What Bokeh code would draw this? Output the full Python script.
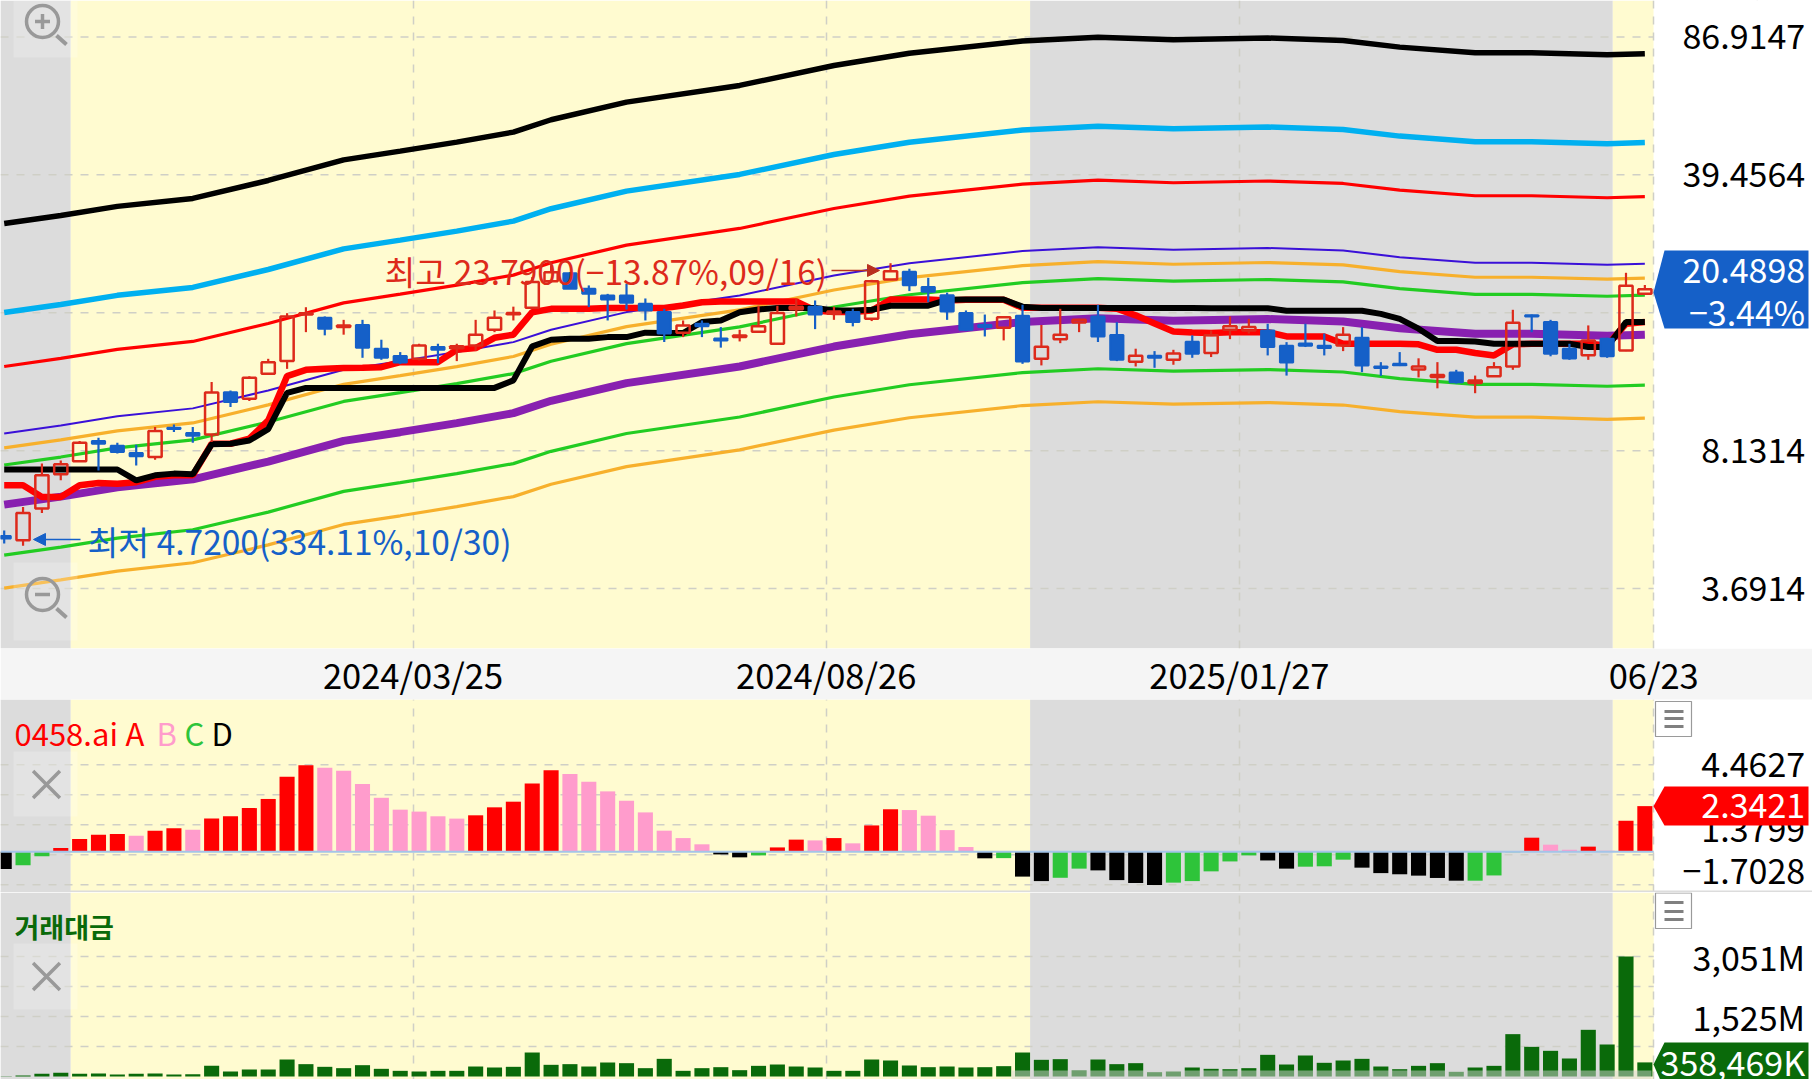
from bokeh.plotting import figure
from bokeh.layouts import column
from bokeh.embed import file_html
from bokeh.resources import INLINE
from bokeh.models import Range1d, FixedTicker, PolyAnnotation, Arrow, NormalHead
from bokeh.core.properties import value
from math import exp

# ---------- price candles (weekly) ----------
high = [5.15,5.89,7.55,7.69,8.59,8.76,8.51,8.41,9.31,9.44,9.31,12.05,11.48,12.46,13.76,17.87,18.49,17.54,17.20,17.20,
        15.35,14.30,15.00,15.00,15.00,17.20,18.15,18.55,21.97,23.50,22.60,20.95,19.96,21.15,19.44,18.33,17.14,17.14,16.50,16.25,
        18.65,18.65,19.40,19.22,18.55,18.32,21.63,23.79,23.05,21.88,20.10,18.15,17.73,17.54,18.75,16.70,18.32,17.30,18.75,16.98,
        14.58,14.38,14.49,15.74,16.19,17.54,17.30,16.82,15.14,16.82,15.90,16.50,16.50,13.50,14.30,13.80,13.50,12.92,12.50,13.50,
        18.22,17.73,17.20,15.00,16.66,15.52,22.52,21.00]
low = [4.78,4.72,5.69,6.86,7.62,7.26,8.00,7.47,7.72,9.05,8.51,8.54,10.44,10.80,12.58,12.99,16.03,15.74,15.80,13.84,
       13.68,13.35,13.63,13.42,13.58,14.38,16.03,17.14,18.36,21.30,20.55,18.50,17.14,18.25,17.14,15.15,15.58,15.58,14.67,15.20,
       16.03,14.95,17.54,16.31,17.20,16.57,17.08,21.63,20.28,19.03,17.20,16.13,15.64,15.29,13.37,13.25,15.05,16.03,15.15,13.58,
       13.17,13.07,13.30,13.84,13.90,15.40,15.90,14.03,12.50,14.72,14.03,14.38,12.75,12.48,13.20,12.37,11.62,11.94,11.30,12.41,
       12.92,16.03,13.96,13.68,13.68,13.84,14.38,19.85]
open_ = [4.99,4.87,5.84,7.10,7.65,8.59,8.36,8.02,7.84,9.27,9.00,8.92,11.37,10.95,12.63,13.58,17.73,17.40,16.50,16.70,
         14.58,13.98,13.76,14.72,14.61,14.86,16.25,17.76,18.43,21.46,22.45,20.55,19.78,19.78,18.87,17.98,15.98,16.82,15.46,15.58,
         16.07,15.00,18.28,18.55,17.80,18.00,17.30,21.67,22.65,20.75,19.80,17.90,16.70,16.44,17.60,13.76,15.40,16.94,17.54,15.77,
         13.53,14.00,13.68,15.17,14.22,16.25,16.19,16.19,14.83,15.03,14.83,14.86,15.52,13.17,13.37,12.95,12.40,12.73,11.98,12.46,
         13.17,17.66,16.98,14.58,14.05,15.43,14.44,19.98]
close = [4.92,5.69,7.06,7.52,8.51,8.46,8.07,7.87,9.10,9.20,8.86,11.35,10.74,12.35,13.50,17.54,17.87,16.35,16.66,14.67,
         13.84,13.47,14.86,14.49,14.78,15.79,17.40,17.90,21.35,22.60,20.55,19.96,19.33,18.97,18.15,15.90,16.66,16.57,15.29,15.72,
         16.57,17.90,18.55,17.73,18.05,16.98,21.47,22.73,20.98,20.20,18.05,16.25,16.50,17.47,13.55,14.74,15.80,17.20,15.64,13.68,
         14.00,13.84,14.18,14.16,15.74,16.57,16.50,14.72,13.48,14.83,14.64,15.80,13.25,13.05,13.27,13.17,12.55,12.03,12.16,13.12,
         16.92,17.54,14.16,13.79,15.29,13.96,20.90,20.49]

# ---------- thick step lines ----------
thick_red = [6.67,6.67,6.24,6.24,6.67,6.76,6.73,6.79,7.00,7.06,7.06,8.46,8.46,8.71,9.67,12.46,12.92,12.99,13.05,13.07,
             13.12,13.50,13.50,13.50,14.49,14.63,15.52,15.80,17.97,18.32,18.33,18.33,18.40,18.40,18.40,18.40,18.67,19.03,19.11,19.11,
             19.11,19.11,19.11,18.15,17.98,17.98,18.15,19.33,19.33,19.33,19.22,19.30,19.30,19.30,18.43,18.43,18.43,18.43,18.43,18.33,
             17.65,16.84,16.09,16.00,15.95,16.03,16.03,16.03,15.64,15.64,15.64,15.00,15.00,15.00,15.00,14.95,14.49,14.49,14.22,14.03,
             14.95,15.00,15.00,15.00,15.00,14.86,16.82,16.98]
thick_black = [7.30,7.30,7.30,7.30,7.30,7.30,7.30,6.86,7.06,7.13,7.10,8.43,8.46,8.62,9.20,11.32,11.65,11.65,11.65,11.65,
               11.65,11.65,11.65,11.65,11.65,11.65,11.65,12.16,14.78,15.35,15.43,15.43,15.58,15.58,15.98,15.95,15.95,16.98,17.14,17.97,
               18.25,18.42,18.42,18.42,18.15,18.15,18.22,18.65,18.65,18.65,19.29,19.33,19.33,19.33,18.55,18.42,18.42,18.42,18.42,18.42,
               18.42,18.42,18.42,18.42,18.39,18.39,18.39,18.39,18.12,18.12,18.12,18.12,18.12,17.80,17.30,16.35,15.24,15.24,15.20,15.00,
               15.00,15.00,15.00,15.00,14.72,14.72,16.98,16.98]

# ---------- envelope lines, read at these bars ----------
band_bars = [0,3,6,10,14,18,21,24,27,29,33,39,44,48,54,58,62,67,71,74,78,81,85,87]
band_black = [29.87,31.27,32.94,34.48,38.21,43.0,45.2,47.6,50.4,54.1,59.85,65.85,73.8,79.2,84.9,86.8,85.55,86.4,85.2,82.0,79.4,79.4,78.5,79.0]
band_cyan = [17.94,18.78,19.79,20.71,22.95,25.83,27.15,28.59,30.28,32.5,35.95,39.56,44.33,47.58,51.0,52.14,51.39,51.9,51.18,49.26,47.7,47.7,47.15,47.46]
band_red = [13.17,13.79,14.52,15.2,16.85,18.96,19.93,20.99,22.22,23.85,26.39,29.03,32.54,34.92,37.43,38.27,37.72,38.09,37.56,36.15,35.01,35.01,34.61,34.83]
band_violet = [8.97,9.39,9.9,10.36,11.48,12.92,13.58,14.3,15.14,16.25,17.98,19.78,22.17,23.79,25.5,26.07,25.7,25.95,25.59,24.63,23.85,23.85,23.58,23.73]
band_orange = [8.26,8.65,9.11,9.53,10.57,11.89,12.5,13.16,13.94,14.96,16.55,18.21,20.41,21.9,23.47,24.0,23.65,23.89,23.56,22.67,21.95,21.95,21.71,21.84]
band_green = [7.49,7.84,8.26,8.65,9.58,10.78,11.34,11.94,12.64,13.57,15.01,16.52,18.51,19.86,21.29,21.77,21.46,21.67,21.37,20.57,19.91,19.91,19.69,19.81]
band_purple = [5.97,6.25,6.59,6.90,7.64,8.6,9.04,9.52,10.08,10.82,11.97,13.17,14.76,15.84,16.98,17.36,17.11,17.28,17.04,16.4,15.88,15.88,15.7,15.8]
band_green2 = [4.47,4.68,4.93,5.17,5.72,6.44,6.77,7.13,7.55,8.1,8.97,9.86,11.06,11.86,12.72,13.0,12.82,12.94,12.76,12.28,11.89,11.89,11.76,11.83]
band_orange2 = [3.70,3.88,4.08,4.28,4.74,5.33,5.6,5.9,6.25,6.71,7.42,8.17,9.15,9.82,10.53,10.76,10.61,10.71,10.56,10.17,9.85,9.85,9.73,9.8]

# ---------- oscillator ----------
osc = [-.89,-.70,-.24,.19,.65,.87,.91,.82,1.08,1.20,1.13,1.71,1.82,2.24,2.71,3.85,4.44,4.32,4.16,3.48,
       2.77,2.16,2.06,1.82,1.70,1.87,2.28,2.57,3.51,4.18,3.99,3.60,3.10,2.62,2.02,1.08,.70,.38,-.14,-.29,
       -.19,.22,.62,.58,.70,.43,1.35,2.18,2.14,1.85,1.11,.24,-.34,-.33,-1.28,-1.51,-1.34,-.87,-.96,-1.46,
       -1.61,-1.71,-1.59,-1.51,-1.01,-.50,-.19,-.45,-.87,-.77,-.75,-.41,-.82,-1.10,-1.16,-1.23,-1.35,-1.49,-1.49,-1.22,
       -.03,.72,.36,.10,.26,.05,1.59,2.3421]
osc_state = list("DCCAAAABAABAAAAAABBBBBBBBAAAAABBBBBBBBDDCAABABAABBBBDCDDCCDDDDCCCCCDDCCCDDDDDDCCCABBABAA")
osc_colors = {"A": "#ff0000", "B": "#ff9ccc", "C": "#2ec43a", "D": "#000000"}

# ---------- traded value, millions ----------
volume = [8,25,68,93,68,76,51,68,76,51,59,271,127,178,178,432,314,246,212,288,
          195,144,127,144,144,254,229,246,610,297,314,254,356,339,212,449,144,212,237,161,
          271,305,254,229,144,144,432,407,280,237,254,229,237,263,610,424,441,153,432,314,
          339,110,127,229,195,186,212,551,305,534,348,407,449,254,186,271,339,119,229,271,
          1077,754,653,458,1187,814,3051,358.469]

# ---------- axes ----------
date_ticks = [21.68, 43.59, 65.5, 87.47]
date_labels = ["2024/03/25", "2024/08/26", "2025/01/27", "06/23"]
price_grid = [86.9147, 39.4564, 17.912, 8.1314, 3.6914]
price_ticks = [86.9147, 39.4564, 8.1314, 3.6914]
price_labels = ["86.9147", "39.4564", "8.1314", "3.6914"]
osc_grid = [4.4627, 2.9213, 1.3799, -0.1615, -1.7028]
osc_label_pos = [4.4627, 1.14, -1.0]
osc_labels = ["4.4627", "1.3799", "\u22121.7028"]
vol_grid = [3051, 2288, 1525, 763]
vol_ticks = [3051, 1525]
vol_labels = ["3,051M", "1,525M"]
gray_spans = [(-0.2, 3.53), (54.4, 85.3)]
cream_spans = [(3.53, 54.4), (85.3, 87.47)]

FONT = value("Noto Sans CJK KR")
BLUE = "#1560c8"
RED = "#dd2a1b"
CREAM = "#fffbd0"
GRAY = "#dcdcdc"
GRID = "#cfcfc6"
XMIN, XMAX = -0.1962, 95.89
XEND = 87.47
LBLX = 95.5
SIZE = "34px"
NOTE = "33.5px"

def X(px):
    return XMIN + px * (XMAX - XMIN) / 1812.0
def PY(py):
    return 17.912 * exp((312.3 - py) * 0.005727)
def OY(py):
    return (852.2 - py) / 19.46
def VY(py):
    return (1077 - py) * 25.43

n = len(close)
idx = list(range(n))

def make_fig(height, y_range, **kw):
    p = figure(width=1812, height=height, x_range=Range1d(XMIN, XMAX), y_range=y_range,
               output_backend="svg", toolbar_location=None, min_border=0, **kw)
    p.outline_line_color = None
    p.background_fill_color = "#ffffff"
    p.border_fill_color = "#ffffff"
    p.ygrid.visible = False
    p.xgrid.ticker = FixedTicker(ticks=date_ticks)
    p.xgrid.grid_line_color = GRID
    p.xgrid.grid_line_dash = "8 8"
    p.xgrid.grid_line_width = 1.5
    p.xgrid.level = "underlay"
    return p

def bands(p, bottom, top):
    for a, b in gray_spans:
        p.quad(left=a, right=b, bottom=bottom, top=top, fill_color=GRAY, line_color=None, level="image")
    for a, b in cream_spans:
        p.quad(left=a, right=b, bottom=bottom, top=top, fill_color=CREAM, line_color=None, level="image")

def hgrid(p, vals):
    p.segment(x0=[XMIN] * len(vals), x1=[XEND] * len(vals), y0=vals, y1=vals,
              line_color=GRID, line_width=1.5, line_dash="8 8", level="underlay")

def ticklabels(p, ys, labels, size=SIZE, color="#000000"):
    p.text(x=[LBLX] * len(ys), y=ys, text=labels, text_font=FONT, text_font_size=size,
           text_color=color, text_align="right", text_baseline="middle")

def tag(p, yfn, y_top, y_tip, y_bot, color):
    xs = [X(1653), X(1664), X(1808), X(1808), X(1664)]
    ys = [yfn(y_tip), yfn(y_top), yfn(y_top), yfn(y_bot), yfn(y_bot)]
    p.patch(x=xs, y=ys, fill_color=color, line_color=None)

def rbox(p, yfn, px0, px1, py0, py1):
    p.quad(left=X(px0), right=X(px1), top=yfn(py0), bottom=yfn(py1),
           fill_color="#ffffff", fill_alpha=0.22, line_color=None)

def menu(p, yfn, py0, py1, lines):
    p.quad(left=X(1655), right=X(1691), top=yfn(py0), bottom=yfn(py1),
           fill_color="#ffffff", line_color="#9a9a9a", line_width=1.2)
    for py in lines:
        p.line(x=[X(1664), X(1683)], y=[yfn(py), yfn(py)], line_color="#808080", line_width=3)

# ========== main panel ==========
p1 = make_fig(700, Range1d(2.619, 107.1), y_axis_type="log", frame_height=648, x_axis_location="below")
p1.yaxis.visible = False
ax = p1.xaxis[0]
ax.ticker = FixedTicker(ticks=date_ticks)
ax.major_label_overrides = dict(zip(date_ticks, date_labels))
ax.major_label_text_font = "Noto Sans CJK KR"
ax.major_label_text_font_size = "34.5px"
ax.major_label_text_color = "#000000"
ax.major_tick_line_color = None
ax.minor_tick_line_color = None
ax.major_tick_in = 0
ax.major_tick_out = 0
ax.minor_tick_in = 0
ax.minor_tick_out = 0
ax.axis_line_color = None
ax.major_label_standoff = 0
p1.border_fill_color = "#f5f5f5"
p1.margin = (0, 0, -2, 0)

bands(p1, 2.619, 107.1)
p1.quad(left=XEND, right=XMAX, bottom=2.619, top=107.1, fill_color="#ffffff", line_color=None, level="image")
hgrid(p1, price_grid)

for ser, col, w in [(band_black, "#000000", 5.5), (band_cyan, "#00b0f0", 5.5), (band_red, "#ff0000", 3.2),
                    (band_violet, "#3a10d8", 2), (band_orange, "#f7b02c", 3.2), (band_green, "#22cc22", 3.2),
                    (band_green2, "#22cc22", 3.2), (band_orange2, "#f7b02c", 3.2), (band_purple, "#8820b0", 8)]:
    p1.line(x=band_bars, y=ser, line_color=col, line_width=w)
p1.line(x=idx, y=thick_red, line_color="#ff0000", line_width=6.5)
p1.line(x=idx, y=thick_black, line_color="#000000", line_width=6)

up = [i for i in idx if close[i] >= open_[i]]
dn = [i for i in idx if close[i] < open_[i]]
tops = [max(open_[i], close[i]) for i in idx]
bots = [min(open_[i], close[i]) for i in idx]
p1.segment(x0=dn, x1=dn, y0=[high[i] for i in dn], y1=[low[i] for i in dn], line_color=BLUE, line_width=2.2)
p1.vbar(x=dn, width=0.7, top=[tops[i] for i in dn], bottom=[bots[i] for i in dn],
        fill_color=BLUE, line_color=BLUE, line_width=2)
p1.segment(x0=up, x1=up, y0=[high[i] for i in up], y1=[tops[i] for i in up], line_color=RED, line_width=2.2)
p1.segment(x0=up, x1=up, y0=[bots[i] for i in up], y1=[low[i] for i in up], line_color=RED, line_width=2.2)
p1.vbar(x=up, width=0.7, top=[tops[i] for i in up], bottom=[bots[i] for i in up],
        fill_color=None, line_color=RED, line_width=2.5)

# notes on high and low
p1.text(x=[X(384)], y=[PY(270)], text=["최고 23.7900(\u221213.87%,09/16)"], text_font=FONT, text_font_size=NOTE,
        text_color=RED, text_align="left", text_baseline="middle")
p1.text(x=[X(87)], y=[PY(540)], text=["최저 4.7200(334.11%,10/30)"], text_font=FONT, text_font_size=NOTE,
        text_color=BLUE, text_align="left", text_baseline="middle")
p1.add_layout(Arrow(end=NormalHead(size=12, fill_color="#b9301f", line_color="#b9301f"),
                    x_start=X(831), y_start=PY(270), x_end=X(879), y_end=PY(270),
                    line_color="#b9301f", line_width=1.5))
p1.add_layout(Arrow(end=NormalHead(size=12, fill_color=BLUE, line_color=BLUE),
                    x_start=X(80), y_start=PY(539), x_end=X(33), y_end=PY(539),
                    line_color=BLUE, line_width=1.5))

# zoom buttons
rbox(p1, PY, 13, 77, 0, 57)
rbox(p1, PY, 13, 77, 562, 640)
for py, mk in [(21, "cross"), (594, "dash")]:
    p1.scatter(x=[X(42)], y=[PY(py)], size=32, marker="circle", fill_alpha=0, line_color="#999999", line_width=3.5)
    p1.scatter(x=[X(42)], y=[PY(py)], size=15, marker=mk, line_color="#999999", line_width=3.5)
    p1.line(x=[X(56), X(66)], y=[PY(py + 14), PY(py + 23)], line_color="#999999", line_width=4)

ticklabels(p1, price_ticks, price_labels)
tag(p1, PY, 250, 292, 328, BLUE)
p1.text(x=[LBLX, LBLX], y=[PY(270), PY(311)], text=["20.4898", "\u22123.44%"], text_font=FONT,
        text_font_size=SIZE, text_color="#ffffff", text_align="right", text_baseline="middle")

# date strip decorations
p1.add_layout(PolyAnnotation(xs=[1756, 1757.5, 1757.5, 1756], ys=[648, 648, 700, 700], xs_units="screen", ys_units="screen",
                             fill_color="#e2e2e2", fill_alpha=1, line_color=None))
p1.add_layout(PolyAnnotation(xs=[1770, 1792, 1781], ys=[669, 669, 655], xs_units="screen", ys_units="screen",
                             fill_color="#9a9a9a", fill_alpha=1, line_color=None))
p1.add_layout(PolyAnnotation(xs=[1770, 1792, 1781], ys=[677, 677, 691], xs_units="screen", ys_units="screen",
                             fill_color="#9a9a9a", fill_alpha=1, line_color=None))

# ========== oscillator panel ==========
p2 = make_fig(193, Range1d(OY(893), OY(700)))
p2.axis.visible = False
bands(p2, OY(893), OY(700))
hgrid(p2, osc_grid)
p2.vbar(x=idx, width=0.8, top=osc, bottom=[0] * n, fill_color=[osc_colors[s] for s in osc_state], line_color=None)
p2.line(x=[XMIN, XEND], y=[0, 0], line_color="#a4c4e8", line_width=2)
p2.quad(left=XMIN, right=XMAX, top=OY(891), bottom=OY(893), fill_color="#dcdcdc", line_color=None)
xs_leg = [14, 125, 156, 184, 211]
for t, c, px in zip(["0458.ai", "A", "B", "C", "D"], ["#ff0000", "#ff0000", "#ff9ccc", "#2ec43a", "#000000"], xs_leg):
    p2.text(x=[X(px)], y=[OY(733)], text=[t], text_font=FONT, text_font_size="31px", text_color=c,
            text_align="left", text_baseline="middle")
rbox(p2, OY, 13, 77, 752, 817)
p2.scatter(x=[X(46)], y=[OY(785)], size=38, marker="x", line_color="#999999", line_width=3.5)
menu(p2, OY, 702, 737, [712, 719, 727])
ticklabels(p2, osc_label_pos, osc_labels)
tag(p2, OY, 787, 806.7, 826, "#ff0000")
p2.text(x=[LBLX], y=[OY(806)], text=["2.3421"], text_font=FONT, text_font_size=SIZE, text_color="#ffffff",
        text_align="right", text_baseline="middle")

# ========== traded value panel ==========
p3 = make_fig(187, Range1d(VY(1080), VY(893)))
p3.axis.visible = False
bands(p3, VY(1080), VY(893))
hgrid(p3, vol_grid)
p3.vbar(x=idx, width=0.8, top=volume, bottom=[0] * n, fill_color="#0a6a0a", line_color=None)
p3.quad(left=X(1011), right=X(1651), bottom=VY(1080), top=VY(1071), fill_color="#d4d4d4", fill_alpha=0.5, line_color=None)
p3.text(x=[X(14)], y=[VY(926.7)], text=["거래대금"], text_font=FONT, text_font_size="27px", text_font_style="bold",
        text_color="#0a6a0a", text_align="left", text_baseline="middle")
rbox(p3, VY, 13, 77, 944, 1010)
p3.scatter(x=[X(46)], y=[VY(977)], size=38, marker="x", line_color="#999999", line_width=3.5)
menu(p3, VY, 893.5, 929, [903, 912, 920])
ticklabels(p3, vol_ticks, vol_labels)
tag(p3, VY, 1043, 1065, 1090, "#0a6a0a")
p3.text(x=[LBLX], y=[VY(1062)], text=["358,469K"], text_font=FONT, text_font_size=SIZE, text_color="#ffffff",
        text_align="right", text_baseline="middle")

page = column(p1, p2, p3, spacing=0, styles={"position": "absolute", "left": "0px", "top": "0px"})
open("out.html", "w").write(file_html(page, INLINE))
